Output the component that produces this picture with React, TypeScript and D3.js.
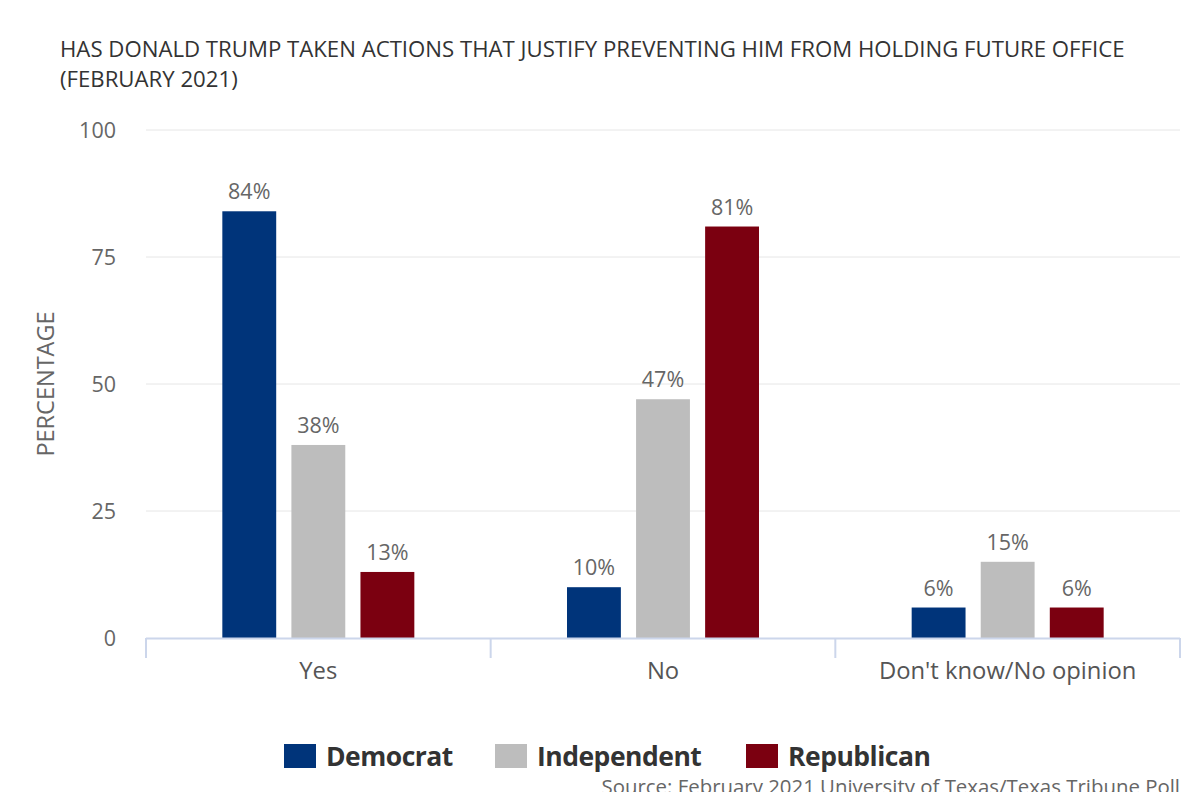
import * as d3 from 'd3'

const categories = ['Yes', 'No', "Don't know/No opinion"]
const seriesNames = ['Democrat', 'Independent', 'Republican']
const seriesColors = ['#00347a', '#bdbdbd', '#7b0010']
const democrat = [84, 10, 6]
const independent = [38, 47, 15]
const republican = [13, 81, 6]
const yTicks = [0, 25, 50, 75, 100]

const WIDTH = 1200
const HEIGHT = 800
const MARGIN = { top: 130, right: 20, bottom: 162, left: 146 }
const FONT = '"Open Sans", "Noto Sans", sans-serif'

export default function App() {
  const values = [democrat, independent, republican]
  const boundsWidth = WIDTH - MARGIN.left - MARGIN.right
  const boundsHeight = HEIGHT - MARGIN.top - MARGIN.bottom

  const xScale = d3.scaleBand().domain(categories).range([0, boundsWidth]).padding(0)
  const bw = xScale.bandwidth()
  const groupWidth = 192
  const x1 = d3
    .scaleBand()
    .domain(seriesNames)
    .range([bw / 2 - groupWidth / 2, bw / 2 + groupWidth / 2])
    .paddingInner(0.22)
    .paddingOuter(0)
  const yScale = d3.scaleLinear().domain([0, 100]).range([boundsHeight, 0])

  const bars = seriesNames.flatMap((s, si) =>
    categories.map((c, ci) => {
      const v = values[si][ci]
      const x = (xScale(c) ?? 0) + (x1(s) ?? 0)
      return (
        <g key={s + c}>
          <rect
            x={x}
            y={yScale(v)}
            width={x1.bandwidth()}
            height={boundsHeight - yScale(v)}
            fill={seriesColors[si]}
          />
          <text
            x={x + x1.bandwidth() / 2}
            y={yScale(v) - 12}
            textAnchor="middle"
            fontSize={21.5}
            fill="#666666"
          >
            {v}%
          </text>
        </g>
      )
    })
  )

  const tickXs = [...categories.map((c) => xScale(c) ?? 0), boundsWidth]

  const legendItems = [
    { x: 284, text: 'Democrat' },
    { x: 495, text: 'Independent' },
    { x: 746, text: 'Republican' },
  ]

  return (
    <svg width={WIDTH} height={HEIGHT} style={{ display: 'block', margin: '-8px', fontFamily: FONT }}>
      <rect width={WIDTH} height={HEIGHT} fill="#ffffff" />
      <text x={60} y={57} fontSize={22.2} fill="#333333">
        HAS DONALD TRUMP TAKEN ACTIONS THAT JUSTIFY PREVENTING HIM FROM HOLDING FUTURE OFFICE
      </text>
      <text x={60} y={87} fontSize={22.2} fill="#333333">
        (FEBRUARY 2021)
      </text>

      <g transform={`translate(${MARGIN.left},${MARGIN.top})`}>
        {yTicks.map((t) => (
          <g key={t}>
            {t > 0 && (
              <line x1={0} x2={boundsWidth} y1={yScale(t)} y2={yScale(t)} stroke="#e6e6e6" />
            )}
            <text
              x={-30}
              y={yScale(t)}
              dy="0.35em"
              textAnchor="end"
              fontSize={21.5}
              fill="#666666"
            >
              {t}
            </text>
          </g>
        ))}
        {bars}
        <line x1={0} x2={boundsWidth} y1={boundsHeight + 0.5} y2={boundsHeight + 0.5} stroke="#ccd6eb" strokeWidth={2} />
        {tickXs.map((x, i) => (
          <line key={i} x1={x} x2={x} y1={boundsHeight} y2={boundsHeight + 20} stroke="#ccd6eb" strokeWidth={2} />
        ))}
        {categories.map((c) => (
          <text
            key={c}
            x={(xScale(c) ?? 0) + bw / 2}
            y={boundsHeight + 41}
            textAnchor="middle"
            fontSize={23.8}
            fill="#555555"
          >
            {c}
          </text>
        ))}
        <text
          transform={`translate(${-92},${boundsHeight / 2}) rotate(-90)`}
          textAnchor="middle"
          fontSize={23.5}
          fill="#666666"
        >
          PERCENTAGE
        </text>
      </g>

      {legendItems.map((d, i) => (
        <g key={d.text}>
          <rect x={d.x} y={744} width={32} height={24} fill={seriesColors[i]} />
          <text x={d.x + 42} y={766} fontSize={26.5} fontWeight="bold" fill="#333333" letterSpacing={-0.5}>
            {d.text}
          </text>
        </g>
      ))}
      <text x={1180} y={794} textAnchor="end" fontSize={20.4} fill="#666666">
        Source: February 2021 University of Texas/Texas Tribune Poll
      </text>
    </svg>
  )
}
